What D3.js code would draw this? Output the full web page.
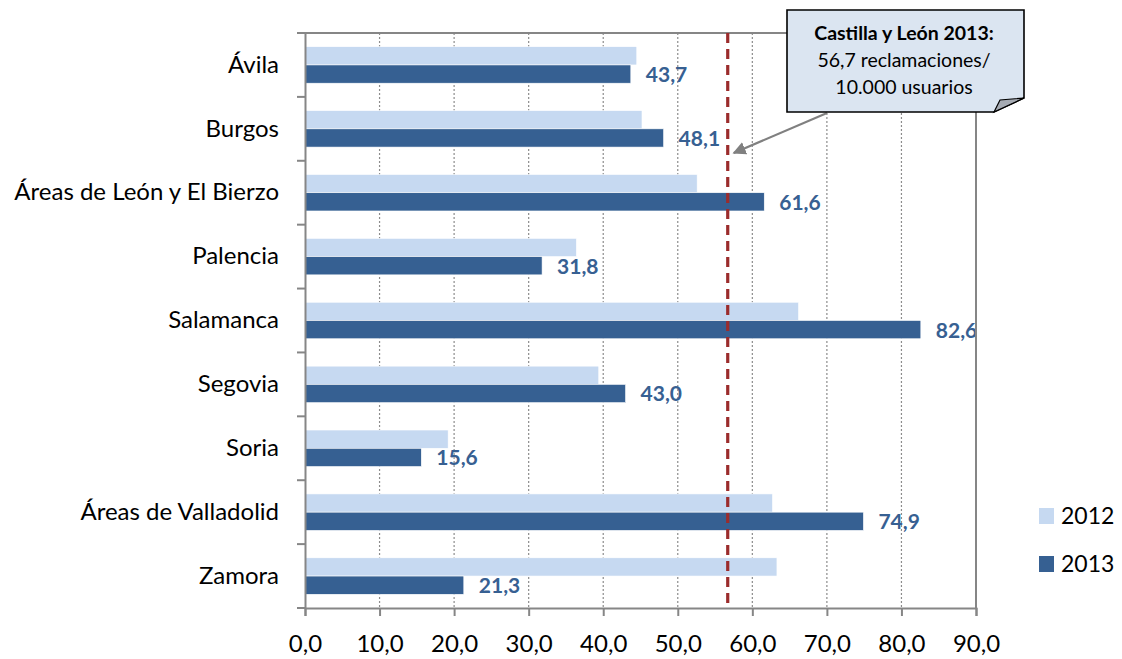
<!DOCTYPE html>
<html>
<head>
<meta charset="utf-8">
<script src="https://cdn.jsdelivr.net/npm/d3@7"></script>
<style>
  body { margin: 0; background: #fff; }
  svg { font-family: Lato, "Open Sans", sans-serif; }
</style>
</head>
<body>
<div id="chart"></div>
<script>
// Reclamaciones / 10.000 usuarios por área de salud

const categories = ['Ávila', 'Burgos', 'Áreas de León y El Bierzo', 'Palencia', 'Salamanca',
    'Segovia', 'Soria', 'Áreas de Valladolid', 'Zamora'];
const values2012 = [44.5, 45.2, 52.6, 36.4, 66.2, 39.4, 19.2, 62.7, 63.3];
const values2013 = [43.7, 48.1, 61.6, 31.8, 82.6, 43.0, 15.6, 74.9, 21.3];
const series = ['2012', '2013'];
const xTicks = [0, 10, 20, 30, 40, 50, 60, 70, 80, 90];
const regionalMean = 56.7;
const calloutLines = ['Castilla y León 2013:', '56,7 reclamaciones/', '10.000 usuarios'];

const width = 1122, height = 659;
const margin = {top: 33, right: 146, bottom: 51, left: 305};
const colors = {'2012': '#c6d9f1', '2013': '#366092'};
const axisColor = '#868686';
const fmt = d => d.toFixed(1).replace('.', ',');

const svg = d3.select('#chart').append('svg')
    .attr('width', width)
    .attr('height', height);

const x = d3.scaleLinear()
    .domain([0, 90])
    .range([margin.left, width - margin.right]);

const y = d3.scaleBand()
    .domain(categories)
    .range([margin.top, height - margin.bottom]);

const ySub = d3.scaleBand()
    .domain(series)
    .range([0, y.bandwidth()])
    .paddingOuter(0.75);

// Gridlines (dotted)
svg.append('g')
    .selectAll('line')
    .data(xTicks.slice(1, -1))
    .enter().append('line')
    .attr('x1', d => x(d)).attr('x2', d => x(d))
    .attr('y1', margin.top).attr('y2', height - margin.bottom)
    .attr('stroke', '#8c8c8c')
    .attr('stroke-width', 1.2)
    .attr('stroke-dasharray', '2,2');

// Bars
const rows = categories.map((c, i) => ({cat: c, vals: [
    {s: '2012', v: values2012[i]},
    {s: '2013', v: values2013[i]}
]}));

const groups = svg.append('g')
    .selectAll('g')
    .data(rows)
    .enter().append('g')
    .attr('transform', d => 'translate(0,' + y(d.cat) + ')');

groups.selectAll('rect')
    .data(d => d.vals)
    .enter().append('rect')
    .attr('x', x(0))
    .attr('y', d => ySub(d.s))
    .attr('width', d => x(d.v) - x(0))
    .attr('height', ySub.bandwidth())
    .attr('fill', d => colors[d.s])
    .attr('stroke', '#ffffff')
    .attr('stroke-width', 0.6);

// Data labels for 2013
groups.append('text')
    .attr('x', d => x(d.vals[1].v) + 15)
    .attr('y', ySub('2013') + ySub.bandwidth() / 2)
    .attr('dy', '0.38em')
    .attr('font-size', 21)
    .attr('font-weight', 'bold')
    .attr('fill', '#376092')
    .text(d => fmt(d.vals[1].v));

// Frame: top and right border
svg.append('path')
    .attr('d', 'M' + x(0) + ',' + margin.top + 'H' + x(90) + 'V' + (height - margin.bottom))
    .attr('fill', 'none')
    .attr('stroke', axisColor)
    .attr('stroke-width', 2);

// Axes
const xAxis = svg.append('g')
    .attr('transform', 'translate(0,' + (height - margin.bottom) + ')')
    .call(d3.axisBottom(x).tickValues(xTicks).tickFormat(fmt).tickSizeOuter(0).tickSize(8).tickPadding(19));

const yAxis = svg.append('g')
    .attr('transform', 'translate(' + x(0) + ',0)')
    .call(d3.axisLeft(y).tickSize(0).tickPadding(26));

[xAxis, yAxis].forEach(a => {
    a.select('.domain').attr('stroke', axisColor).attr('stroke-width', 2);
    a.selectAll('.tick line').attr('stroke', axisColor).attr('stroke-width', 2);
    a.selectAll('text').attr('font-family', 'Lato, sans-serif').attr('font-size', 24).attr('fill', '#000');
});

// Left tick marks between categories
svg.append('g')
    .selectAll('line')
    .data(categories.map(c => y(c)).concat([height - margin.bottom]))
    .enter().append('line')
    .attr('x1', x(0) - 8).attr('x2', x(0))
    .attr('y1', d => d).attr('y2', d => d)
    .attr('stroke', axisColor)
    .attr('stroke-width', 2);

// Regional mean line
svg.append('line')
    .attr('x1', x(regionalMean)).attr('x2', x(regionalMean))
    .attr('y1', margin.top).attr('y2', height - margin.bottom)
    .attr('stroke', '#9b2c2c')
    .attr('stroke-width', 3.2)
    .attr('stroke-dasharray', '10,6');

// Legend
const legend = svg.append('g')
    .selectAll('g')
    .data(series)
    .enter().append('g')
    .attr('transform', (d, i) => 'translate(1039,' + (508 + i * 48) + ')');

legend.append('rect')
    .attr('width', 15).attr('height', 16)
    .attr('fill', d => colors[d]);

legend.append('text')
    .attr('x', 22).attr('y', 8)
    .attr('dy', '0.36em')
    .attr('font-size', 23)
    .text(d => d);

// Callout with arrow
const defs = svg.append('defs');
defs.append('marker')
    .attr('id', 'arrow')
    .attr('viewBox', '0 0 10 10')
    .attr('refX', 9).attr('refY', 5)
    .attr('markerWidth', 6).attr('markerHeight', 6)
    .attr('orient', 'auto')
    .append('path')
    .attr('d', 'M0,0 L10,5 L0,10 Z')
    .attr('fill', '#808080');

svg.append('line')
    .attr('x1', 827).attr('y1', 113)
    .attr('x2', x(regionalMean) + 6).attr('y2', 153)
    .attr('stroke', '#808080')
    .attr('stroke-width', 2.2)
    .attr('marker-end', 'url(#arrow)');

svg.append('path')
    .attr('d', 'M787,10 H1024 V98 L994,112 H787 Z')
    .attr('fill', '#dbe5f1')
    .attr('stroke', '#000')
    .attr('stroke-width', 1.6);

svg.append('path')
    .attr('d', 'M994,112 L1000,100 L1024,98 Z')
    .attr('fill', '#a6abb3')
    .attr('stroke', '#000')
    .attr('stroke-width', 1.2);

svg.append('g')
    .selectAll('text')
    .data(calloutLines)
    .enter().append('text')
    .attr('x', 904)
    .attr('y', (d, i) => 40 + i * 27)
    .attr('text-anchor', 'middle')
    .attr('font-size', 19.5)
    .attr('font-weight', (d, i) => i === 0 ? 'bold' : 'normal')
    .text(d => d);
</script>
</body>
</html>
